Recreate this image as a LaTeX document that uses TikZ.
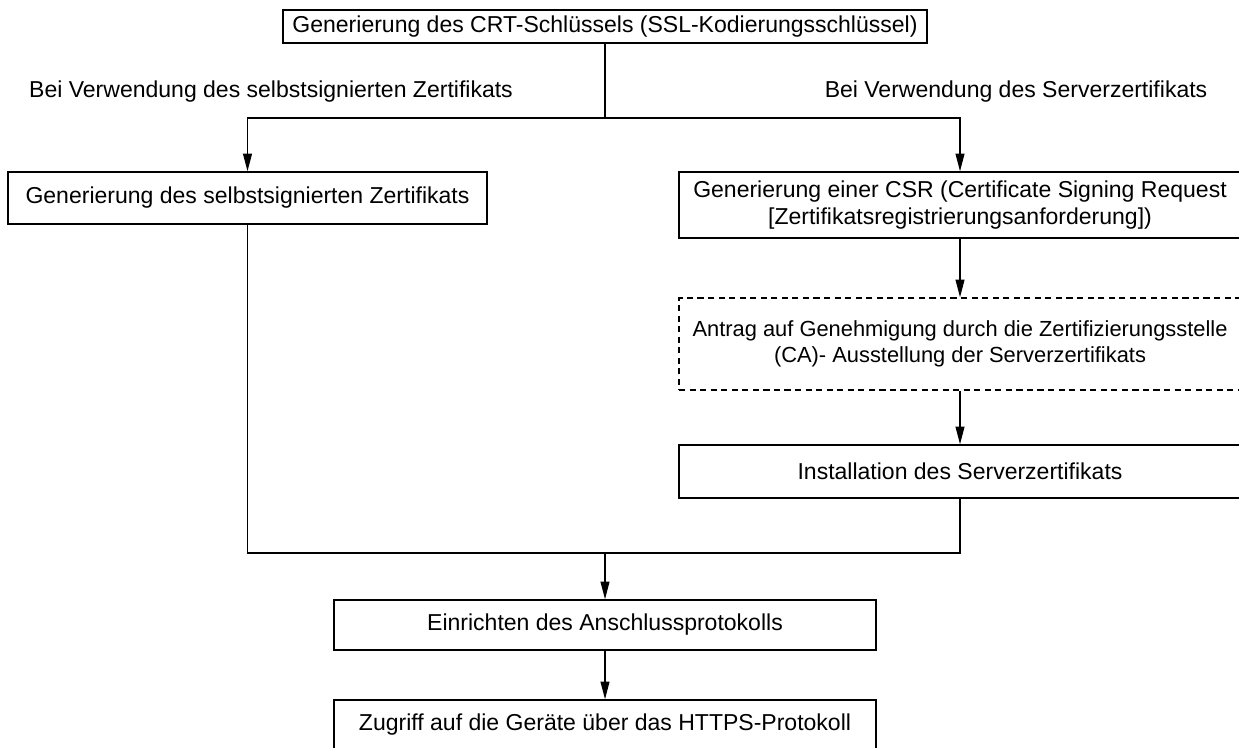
\documentclass[tikz,border=0pt]{standalone}
\usepackage{fontspec}
\setmainfont{Liberation Sans}
\usetikzlibrary{arrows.meta}
\tikzset{
    box/.style={draw, line width=0.8pt, inner sep=0pt, align=center},
    dashbox/.style={box, dash pattern=on 3.5pt off 2.5pt, font=\fontsize{12.45}{15}\selectfont},
    arr/.style={-{Triangle[length=10pt,width=5pt]}},
}
\begin{document}
\begin{tikzpicture}[x=0.02cm,y=-0.02cm,line width=0.8pt,font=\fontsize{13.1}{15.5}\selectfont]
        \clip (0,0) rectangle (1239,747);
        \node[box, minimum width=12.88cm, minimum height=0.66cm] (crt) at (605,26.5) {Generierung des CRT-Schlüssels (SSL-Kodierungsschlüssel)};
        \node (lblself) at (271,92) {Bei Verwendung des selbstsignierten Zertifikats};
        \node (lblsrv) at (1016,92) {Bei Verwendung des Serverzertifikats};

        \node[box, minimum width=9.58cm, minimum height=1.04cm] (self) at (247.5,198) {Generierung des selbstsignierten Zertifikats};
        \node[box, minimum width=11.24cm, minimum height=1.32cm] (csr) at (960,205) {Generierung einer CSR (Certificate Signing Request\\{}[Zertifikatsregistrierungsanforderung])};
        \node[dashbox, minimum width=11.24cm, minimum height=1.84cm] (ca) at (960,344) {Antrag auf Genehmigung durch die Zertifizierungsstelle\\ (CA)- Ausstellung der Serverzertifikats};
        \node[box, minimum width=11.24cm, minimum height=1.06cm] (inst) at (960,471.5) {Installation des Serverzertifikats};

        \node[box, minimum width=10.84cm, minimum height=1.0cm] (setup) at (605,625) {Einrichten des Anschlussprotokolls};
        \node[box, minimum width=10.84cm, minimum height=1.0cm] (https) at (605,725) {Zugriff auf die Geräte über das HTTPS-Protokoll};

        \coordinate (fork) at (605,118);
        \coordinate (join) at (605,553);
        \draw (crt) -- (fork);
        \draw[arr] (fork) -| (self);
        \draw[arr] (fork) -| (csr);
        \draw[arr] (csr) -- (ca);
        \draw[arr] (ca) -- (inst);
        \draw (self) |- (join);
        \draw (inst) |- (join);
        \draw[arr] (join) -- (setup);
        \draw[arr] (setup) -- (https);
\end{tikzpicture}
\end{document}
